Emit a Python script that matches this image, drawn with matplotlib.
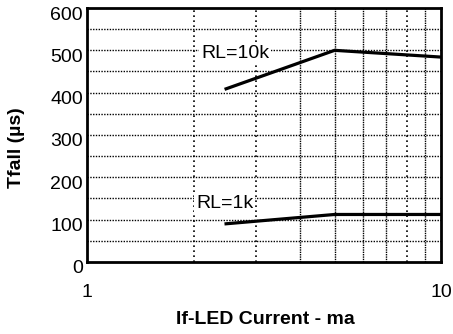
import matplotlib.pyplot as plt
import matplotlib.transforms as mtransforms

plt.rcParams['font.family'] = ['Liberation Sans', 'DejaVu Sans']

# dados
corrente_10k = [2.47, 5.0, 10.0]
tfall_10k = [409, 500, 484]
corrente_1k = [2.47, 5.0, 10.0]
tfall_1k = [90, 112, 112]

y_ticks = [0, 100, 200, 300, 400, 500, 600]
y_grid = [50, 100, 150, 200, 250, 300, 350, 400, 450, 500, 550]
x_grid_pontilhado = [2, 3, 8]
x_grid_denso = [4, 5, 6, 7, 9]

fig = plt.figure(figsize=(4.53, 3.34), dpi=100)
ax = fig.add_axes([0.192, 0.216, 0.782, 0.76])

ax.set_xscale('log')
ax.set_xlim(1, 10)
ax.set_ylim(0, 600)

# grade
for y in y_grid:
    ax.axhline(y, color='black', lw=1.0, linestyle=(0, (1, 1)), zorder=1)
for x in x_grid_pontilhado:
    ax.axvline(x, color='black', lw=1.2, linestyle=(0, (1, 2)), zorder=1)
for x in x_grid_denso:
    ax.axvline(x, color='black', lw=1.0, linestyle=(0, (1, 0.7)), zorder=1)

ax.plot(corrente_10k, tfall_10k, color='black', lw=2.3, zorder=3)
ax.plot(corrente_1k, tfall_1k, color='black', lw=2.3, zorder=3)

ax.text(2.1, 492, 'RL=10k', fontsize=14, va='center', ha='left', zorder=2,
        bbox=dict(facecolor='white', edgecolor='none', pad=1.5))
ax.text(2.03, 139, 'RL=1k', fontsize=14, va='center', ha='left', zorder=2,
        bbox=dict(facecolor='white', edgecolor='none', pad=1.5))

ax.set_yticks(y_ticks)
ax.set_xticks([1, 10])
ax.set_xticklabels(['1', '10'])
ax.minorticks_off()
ax.tick_params(axis='both', length=0, labelsize=14)
ax.tick_params(axis='x', pad=16)
ax.tick_params(axis='y', pad=3)

# rótulos do eixo y um pouco abaixo das linhas
desloca = mtransforms.ScaledTranslation(0, -5 / 100, fig.dpi_scale_trans)
for lbl in ax.get_yticklabels():
    lbl.set_transform(lbl.get_transform() + desloca)

for sp in ax.spines.values():
    sp.set_linewidth(2)

ax.set_ylabel('Tfall (µs)', fontsize=14, fontweight='bold')
ax.set_xlabel('If-LED Current - ma', fontsize=14, fontweight='bold')
ax.yaxis.set_label_coords(-0.198, 0.45)
ax.yaxis.label.set_va('center')
ax.xaxis.set_label_coords(0.504, -0.228)
ax.xaxis.label.set_va('center')

fig.savefig('out.png', dpi=100)
